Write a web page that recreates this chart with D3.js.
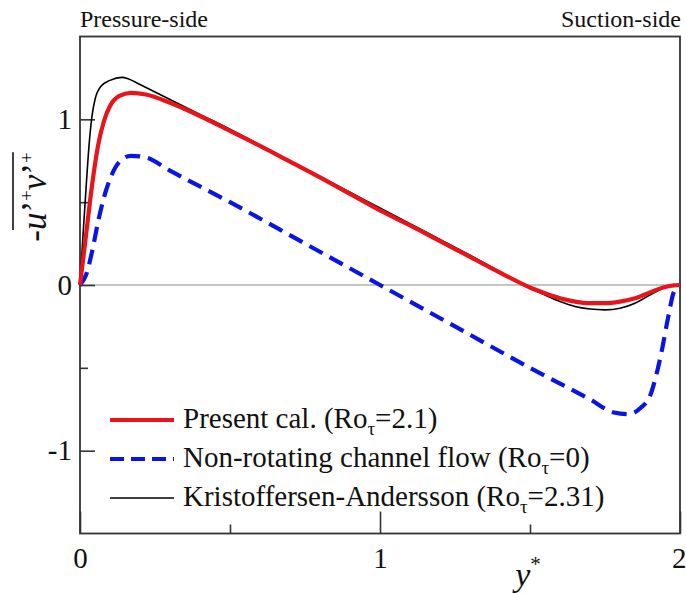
<!DOCTYPE html>
<html><head><meta charset="utf-8">
<script src="https://cdn.jsdelivr.net/npm/d3@7/dist/d3.min.js"></script>
<style>
html,body{margin:0;padding:0;background:#fff;}
svg{display:block;font-family:"Liberation Serif","DejaVu Serif",serif;}
</style></head>
<body>
<svg id="chart" width="686" height="593"></svg>
<script>
// ---- data ----
const presentX = [0,0.02,0.04,0.06,0.08,0.1,0.13,0.17,0.22,0.3,0.4,0.5,0.6,0.7,0.8,0.9,1.0,1.1,1.2,1.3,1.4,1.5,1.55,1.6,1.65,1.7,1.75,1.8,1.85,1.9,1.95,1.98,2.0];
const presentY = [0,0.3,0.6,0.84,0.99,1.08,1.14,1.16,1.15,1.10,1.02,0.93,0.84,0.745,0.65,0.55,0.45,0.36,0.265,0.17,0.075,-0.015,-0.05,-0.08,-0.1,-0.11,-0.11,-0.1,-0.08,-0.045,-0.012,-0.002,0];
const nonRotX = [0,0.02,0.04,0.06,0.08,0.1,0.13,0.17,0.22,0.3,0.5,0.75,1.0,1.25,1.5,1.7,1.78,1.83,1.87,1.9,1.92,1.94,1.96,1.98,2.0];
const nonRotY = [0,0.06,0.2,0.38,0.53,0.64,0.74,0.78,0.77,0.69,0.5,0.25,0.0,-0.25,-0.5,-0.69,-0.77,-0.78,-0.74,-0.67,-0.55,-0.39,-0.2,-0.04,0];
const kaX = [0,0.01,0.02,0.03,0.04,0.05,0.07,0.1,0.14,0.16,0.2,0.3,0.4,0.5,0.6,0.7,0.8,0.9,1.0,1.1,1.2,1.3,1.4,1.5,1.55,1.6,1.65,1.7,1.75,1.8,1.85,1.9,1.95,2.0];
const kaY = [0,0.3,0.58,0.84,1.02,1.12,1.2,1.235,1.253,1.245,1.21,1.12,1.03,0.94,0.845,0.75,0.655,0.56,0.465,0.37,0.275,0.18,0.08,-0.02,-0.06,-0.1,-0.13,-0.145,-0.15,-0.14,-0.11,-0.06,-0.015,0];
const xMajorTicks = [0,1,2];
const xMinorTicks = [0.5,1.5];
const yMajorTicks = [-1,0,1];
const yMinorTicks = [-0.5,0.5];
const legendLabels = ["Present cal. (Ro", "Non-rotating channel flow (Ro", "Kristoffersen-Andersson (Ro"];
const legendValues = ["=2.1)", "=0)", "=2.31)"];

// ---- layout ----
const svg = d3.select("#chart");
const L = 80, R = 680, T = 36.5, B = 533.5;
const x = d3.scaleLinear().domain([0,2]).range([L,R]);
const y = d3.scaleLinear().domain([-1.5,1.5]).range([B,T]);
const serif = '"Liberation Serif","DejaVu Serif",serif';

// zero line
svg.append("line").attr("x1",L).attr("x2",R).attr("y1",y(0)).attr("y2",y(0))
  .attr("stroke","#8a8a8a").attr("stroke-width",1.2);

// axes
function styleAxis(g){
  g.select(".domain").remove();
  g.selectAll(".tick line").attr("stroke","#333").attr("stroke-width",1.6);
  g.selectAll(".tick text").attr("fill","#111").style("font-family",serif).style("font-size","29px");
}
const fmt = d => d < 0 ? "-" + Math.abs(d) : String(d);
const xAxisG = svg.append("g").attr("transform",`translate(0,${B})`)
  .call(d3.axisBottom(x).tickValues(xMajorTicks).tickSize(-22).tickPadding(14).tickFormat(fmt)).call(styleAxis);
// keep the last label inside the page
xAxisG.selectAll(".tick text").filter(d => d === 2).attr("text-anchor","end").attr("x",6);
svg.append("g").attr("transform",`translate(0,${B})`)
  .call(d3.axisBottom(x).tickValues(xMinorTicks).tickSize(-9).tickFormat("")).call(styleAxis);
svg.append("g").attr("transform",`translate(${L},0)`)
  .call(d3.axisLeft(y).tickValues(yMajorTicks).tickSize(-15).tickPadding(8).tickFormat(fmt)).call(styleAxis);
svg.append("g").attr("transform",`translate(${L},0)`)
  .call(d3.axisLeft(y).tickValues(yMinorTicks).tickSize(-8).tickFormat("")).call(styleAxis);

// frame
svg.append("rect").attr("x",L).attr("y",T).attr("width",R-L).attr("height",B-T)
  .attr("fill","none").attr("stroke","#333").attr("stroke-width",1.8);

// lines
const line = d3.line().x(d=>x(d[0])).y(d=>y(d[1])).curve(d3.curveMonotoneX);
const zip = (a,b) => a.map((v,i)=>[v,b[i]]);
const plot = svg.append("g");
plot.append("path").datum(zip(nonRotX,nonRotY)).attr("d",line)
  .attr("fill","none").attr("stroke","#0a14e6").attr("stroke-width",4.2).attr("stroke-dasharray","15,8");
plot.append("path").datum(zip(kaX,kaY)).attr("d",line)
  .attr("fill","none").attr("stroke","#000").attr("stroke-width",1.6);
plot.append("path").datum(zip(presentX,presentY)).attr("d",line)
  .attr("fill","none").attr("stroke","#e8141a").attr("stroke-width",4.2);

// top labels
svg.append("text").attr("x",L).attr("y",27).text("Pressure-side")
  .style("font-size","24px").attr("fill","#111");
svg.append("text").attr("x",R+1).attr("y",27).attr("text-anchor","end").text("Suction-side")
  .style("font-size","24px").attr("fill","#111");

// x label
const xl = svg.append("text").attr("x",528).attr("y",586).attr("text-anchor","middle").attr("fill","#111");
xl.append("tspan").text("y").style("font-style","italic").style("font-size","34px");
xl.append("tspan").text("*").attr("dy",-15).style("font-size","21px");

// y label
const yg = svg.append("g").attr("transform","translate(46,197) rotate(-90)");
const yt = yg.append("text").attr("x",0).attr("y",0).attr("text-anchor","middle").attr("fill","#111").style("font-size","35px");
yt.append("tspan").text("-").style("font-style","normal");
yt.append("tspan").text("u").style("font-style","italic");
yt.append("tspan").text("’");
yt.append("tspan").text("+").attr("dy",-13).style("font-size","19px");
yt.append("tspan").text("v").attr("dy",13).style("font-style","italic");
yt.append("tspan").text("’");
yt.append("tspan").text("+").attr("dy",-13).style("font-size","19px");
{
  const node = yt.node();
  const n = node.getNumberOfChars();
  const x0 = node.getStartPositionOfChar(1).x;
  const x1 = node.getEndPositionOfChar(n-1).x;
  yg.append("line").attr("x1",x0).attr("x2",x1).attr("y1",-33).attr("y2",-33)
    .attr("stroke","#111").attr("stroke-width",1.6);
}

// legend
const legY = [420, 459, 498];
const legStyles = [
  {stroke:"#e8141a", w:4.2, dash:null},
  {stroke:"#0a14e6", w:4.2, dash:"14,7"},
  {stroke:"#000", w:1.6, dash:null}
];
legendLabels.forEach((lab,i)=>{
  const s = legStyles[i];
  svg.append("line").attr("x1",110).attr("x2",174).attr("y1",legY[i]).attr("y2",legY[i])
    .attr("stroke",s.stroke).attr("stroke-width",s.w).attr("stroke-dasharray",s.dash);
  const t = svg.append("text").attr("x",183).attr("y",legY[i]+8).attr("fill","#111").style("font-size","29px");
  t.append("tspan").text(lab);
  t.append("tspan").text("τ").attr("dy",7).style("font-size","19px");
  t.append("tspan").text(legendValues[i]).attr("dy",-7);
});
</script>
</body></html>
